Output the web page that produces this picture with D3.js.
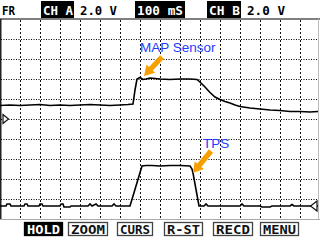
<!DOCTYPE html>
<meta charset="utf-8">
<head>
<style>
  body { margin: 0; background: #fff; }
  svg { display: block; }
  .hdr { font-family: "DejaVu Sans Mono", monospace; font-weight: bold; font-size: 12px; }
  .btn { font-family: "DejaVu Sans Mono", monospace; font-weight: bold; font-size: 12px; }
  .lbl { font-family: "Liberation Sans", Arial, sans-serif; font-size: 13.5px; fill: #1f3cff; }
</style>
<script src="https://cdn.jsdelivr.net/npm/d3@7"></script>
</head>
<body>
<script>
  const width = 320
  const height = 240

  // channel A: MAP sensor (ms, volts)
  const mapTime = [0, 50, 100, 150, 200, 250, 300, 350, 400, 450, 500, 550, 600, 640, 665, 675, 685, 700, 715, 730, 750, 800, 850, 900, 950, 985, 1005, 1025, 1050, 1075, 1100, 1125, 1150, 1175, 1200, 1250, 1300, 1350, 1400, 1450, 1500, 1550, 1590]
  const mapVolts = [1.35, 1.4, 1.35, 1.4, 1.45, 1.35, 1.4, 1.35, 1.4, 1.45, 1.4, 1.35, 1.4, 1.45, 1.5, 2.9, 4.0, 4.15, 3.95, 4.0, 4.1, 4.0, 3.95, 4.0, 4.0, 3.95, 3.6, 3.2, 2.65, 2.2, 1.95, 1.75, 1.6, 1.4, 1.25, 1.1, 1.0, 0.9, 0.85, 0.75, 0.75, 0.7, 0.75]

  // channel B: TPS (ms, volts)
  const tpsTime = [0, 30, 35, 50, 55, 120, 125, 135, 140, 195, 200, 210, 215, 300, 305, 315, 320, 350, 355, 440, 450, 460, 480, 490, 560, 570, 580, 650, 710, 730, 760, 800, 850, 900, 950, 960, 965, 995, 1020, 1030, 1040, 1200, 1210, 1220, 1300, 1310, 1350, 1360, 1450, 1460, 1470, 1590]
  const tpsVolts = [0, 0, 0.2, 0.2, 0, 0, 0.2, 0.2, 0, 0, 0.2, 0.2, 0, 0, 0.2, 0.2, -0.1, -0.1, 0, 0, 0.2, 0, 0.2, 0, 0, 0.2, 0, 0, 4.0, 4.05, 4.05, 4.0, 4.05, 4.05, 4.0, 3.7, 3.3, 0, 0, 0.2, 0, 0, 0.2, 0, 0, -0.1, -0.1, 0, 0, 0.15, 0, 0]

  const headerItems = ["FR", "CH A", "2.0 V", "100 mS", "CH B", "2.0 V"]
  const buttonLabels = ["HOLD", "ZOOM", "CURS", "R-ST", "RECD", "MENU"]

  const timeTicks = d3.range(100, 1600, 100)
  const voltTicks = [8, 6, 4, 2, 0, -2, -4, -6, -8]

  const x = d3.scaleLinear().domain([0, 1600]).range([0, 320])
  const yA = d3.scaleLinear().domain([0, 2]).range([119, 99])
  const yB = d3.scaleLinear().domain([0, 2]).range([206, 186])

  const svg = d3.select("body").append("svg")
    .attr("width", width)
    .attr("height", height)

  svg.append("rect").attr("width", width).attr("height", height).attr("fill", "#fff")

  // header
  const hdr = [
    { t: headerItems[0], x: 2, w: 13, box: false },
    { t: headerItems[1], x: 43, w: 30, box: true, bx: 41, bw: 33 },
    { t: headerItems[2], x: 80, w: 37, box: false },
    { t: headerItems[3], x: 137, w: 46, box: true, bx: 135, bw: 50 },
    { t: headerItems[4], x: 209, w: 31, box: true, bx: 207, bw: 34 },
    { t: headerItems[5], x: 247, w: 38, box: false }
  ]
  hdr.filter(d => d.box).forEach(d => {
    svg.append("rect").attr("x", d.bx).attr("y", 1).attr("width", d.bw).attr("height", 17).attr("fill", "#000")
  })
  svg.selectAll("text.hdr").data(hdr).enter().append("text")
    .attr("class", "hdr")
    .attr("x", d => d.x).attr("y", 15)
    .attr("textLength", d => d.w).attr("lengthAdjust", "spacingAndGlyphs")
    .attr("fill", d => d.box ? "#fff" : "#000")
    .text(d => d.t)

  // frame
  svg.append("line").attr("x1", 0).attr("x2", 320).attr("y1", 19).attr("y2", 19).attr("stroke", "#555").attr("stroke-width", 1.5)
  svg.append("line").attr("x1", 0).attr("x2", 320).attr("y1", 219.5).attr("y2", 219.5).attr("stroke", "#aaa")
  svg.append("line").attr("x1", 0.75).attr("x2", 0.75).attr("y1", 19).attr("y2", 219).attr("stroke", "#222").attr("stroke-width", 1.5)
  svg.append("line").attr("x1", 318.5).attr("x2", 318.5).attr("y1", 19).attr("y2", 219).attr("stroke", "#bbb")

  // grid
  svg.selectAll("line.vg").data(timeTicks).enter().append("line")
    .attr("x1", d => x(d) + 0.5).attr("x2", d => x(d) + 0.5)
    .attr("y1", 20).attr("y2", 219)
    .attr("stroke", "#111").attr("stroke-dasharray", "2,2")
  svg.selectAll("line.hg").data(voltTicks).enter().append("line")
    .attr("x1", 1).attr("x2", 318)
    .attr("y1", d => yA(d) + 0.5).attr("y2", d => yA(d) + 0.5)
    .attr("stroke", "#000").attr("stroke-dasharray", "1,1.5")

  // traces
  const lineA = d3.line().x((d, i) => x(mapTime[i])).y(d => yA(d))
  const lineB = d3.line().x((d, i) => x(tpsTime[i])).y(d => yB(d))
  svg.append("path").attr("d", lineA(mapVolts)).attr("fill", "none").attr("stroke", "#000").attr("stroke-width", 1.6)
  svg.append("path").attr("d", lineB(tpsVolts)).attr("fill", "none").attr("stroke", "#000").attr("stroke-width", 1.6)

  // ground markers
  const ga = yA(0)
  svg.append("path").attr("d", `M3,${ga - 4.5} L8.5,${ga} L3,${ga + 4.5} Z`)
    .attr("fill", "#fff").attr("stroke", "#111").attr("stroke-width", 1.2)
  const gb = yB(0)
  svg.append("path").attr("d", `M317,${gb - 5} L310.5,${gb} L317,${gb + 5} Z`)
    .attr("fill", "#fff").attr("stroke", "#111").attr("stroke-width", 1.2)

  // annotations
  const notes = [
    { text: "MAP Sensor", tx: 700, tv: 6.7, y: yA, tail: [810, 6.2], tip: [720, 4.3] },
    { text: "TPS", tx: 1015, tv: 5.8, y: yB, tail: [1055, 5.5], tip: [965, 3.3] }
  ]
  function arrowPath(x1, y1, x2, y2) {
    const dx = x2 - x1, dy = y2 - y1
    const len = Math.hypot(dx, dy)
    const ux = dx / len, uy = dy / len
    const px = -uy, py = ux
    const head = 10, hw = 6, sw = 2.6
    const bx = x2 - ux * head, by = y2 - uy * head
    const pts = [
      [x1 + px * sw, y1 + py * sw], [bx + px * sw, by + py * sw], [bx + px * hw, by + py * hw],
      [x2, y2],
      [bx - px * hw, by - py * hw], [bx - px * sw, by - py * sw], [x1 - px * sw, y1 - py * sw]
    ]
    return "M" + pts.map(p => p.join(",")).join("L") + "Z"
  }
  notes.forEach(n => {
    svg.append("path")
      .attr("d", arrowPath(x(n.tail[0]), n.y(n.tail[1]), x(n.tip[0]), n.y(n.tip[1])))
      .attr("fill", "#f5a000")
    svg.append("text").attr("class", "lbl").attr("x", x(n.tx)).attr("y", n.y(n.tv)).text(n.text)
  })

  // buttons
  const btnX = [24, 68, 117, 164, 213, 260]
  const btnW = [38, 39, 35, 38, 39, 38]
  const btns = svg.selectAll("g.btn").data(buttonLabels).enter().append("g")
  btns.append("rect")
    .attr("x", (d, i) => btnX[i] + 0.5).attr("y", 222.5)
    .attr("width", (d, i) => btnW[i]).attr("height", 13)
    .attr("fill", (d, i) => i === 0 ? "#000" : "#fff")
    .attr("stroke", (d, i) => i === 0 ? "#000" : "#444").attr("stroke-width", 1.3)
  btns.append("text")
    .attr("class", "btn")
    .attr("x", (d, i) => btnX[i] + btnW[i] / 2 + 0.5).attr("y", 233.5)
    .attr("text-anchor", "middle")
    .attr("textLength", (d, i) => btnW[i] - 5).attr("lengthAdjust", "spacingAndGlyphs")
    .attr("fill", (d, i) => i === 0 ? "#fff" : "#111")
    .text(d => d)
</script>
</body>
